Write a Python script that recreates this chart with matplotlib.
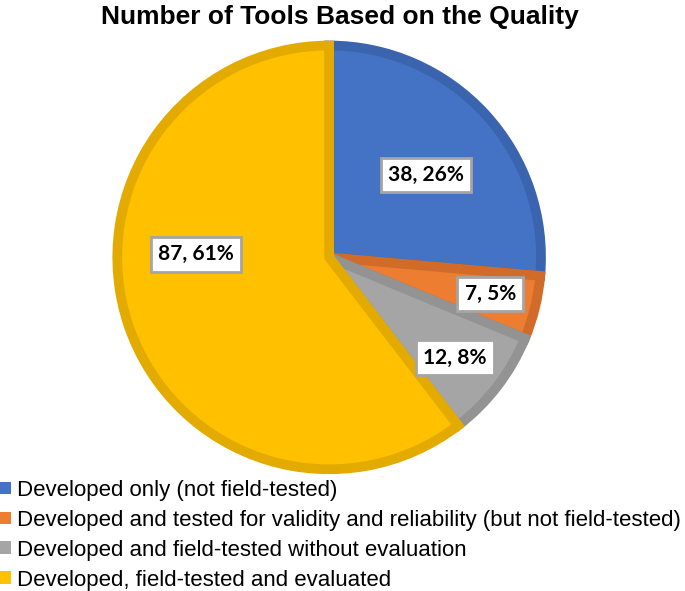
import numpy as np
import matplotlib
matplotlib.use("Agg")
import matplotlib.pyplot as plt
from matplotlib.patches import Patch

# data
categories = [
    "Developed only (not field-tested)",
    "Developed and tested for validity and reliability (but not field-tested)",
    "Developed and field-tested without evaluation",
    "Developed, field-tested and evaluated",
]
counts = [38, 7, 12, 87]
pct_labels = ["26%", "5%", "8%", "61%"]
face_colors = ["#4472C4", "#ED7D31", "#A5A5A5", "#FFC000"]
edge_colors = ["#3B64AE", "#D16B29", "#939393", "#E3AB00"]

# label placement (radius fraction, angle offset from wedge middle in degrees)
label_r = [0.60, 0.78, 0.76, 0.63]
label_shift = [-2, 1, -1, -20]

fig = plt.figure(figsize=(6.85, 5.91), dpi=100)
ax = fig.add_axes([0.171, 0.206, 0.619, 0.717])

wedges, _ = ax.pie(counts, colors=face_colors, startangle=90, counterclock=False,
                   wedgeprops=dict(linewidth=7))
for w, ec in zip(wedges, edge_colors):
    w.set_edgecolor(ec)
    w.set_joinstyle("miter")

ax.set_xlim(-1, 1)
ax.set_ylim(-1, 1)
ax.set_aspect("equal")

for w, n, p, r, sh in zip(wedges, counts, pct_labels, label_r, label_shift):
    mid = np.deg2rad((w.theta1 + w.theta2) / 2 + sh)
    ax.text(r * np.cos(mid), r * np.sin(mid), f"{n}, {p}", ha="center", va="center",
            fontsize=15, fontweight="bold", family=["Lato", "DejaVu Sans"],
            bbox=dict(boxstyle="square,pad=0.35", fc="white", ec="#A5A5A5", lw=2))

fig.text(0.496, 0.972, "Number of Tools Based on the Quality", ha="center", va="center",
         fontsize=19, fontweight="bold", family=["Liberation Sans", "DejaVu Sans"])

handles = [Patch(facecolor=c, edgecolor="none") for c in face_colors]
fig.legend(handles, categories, loc="upper left", bbox_to_anchor=(0.0, 0.188),
           frameon=False, handlelength=0.5, handleheight=0.5,
           handletextpad=0.25, labelspacing=0.4, borderaxespad=0, borderpad=0,
           prop={"family": ["Liberation Sans", "DejaVu Sans"], "size": 16})

fig.savefig("out.png", dpi=100)
